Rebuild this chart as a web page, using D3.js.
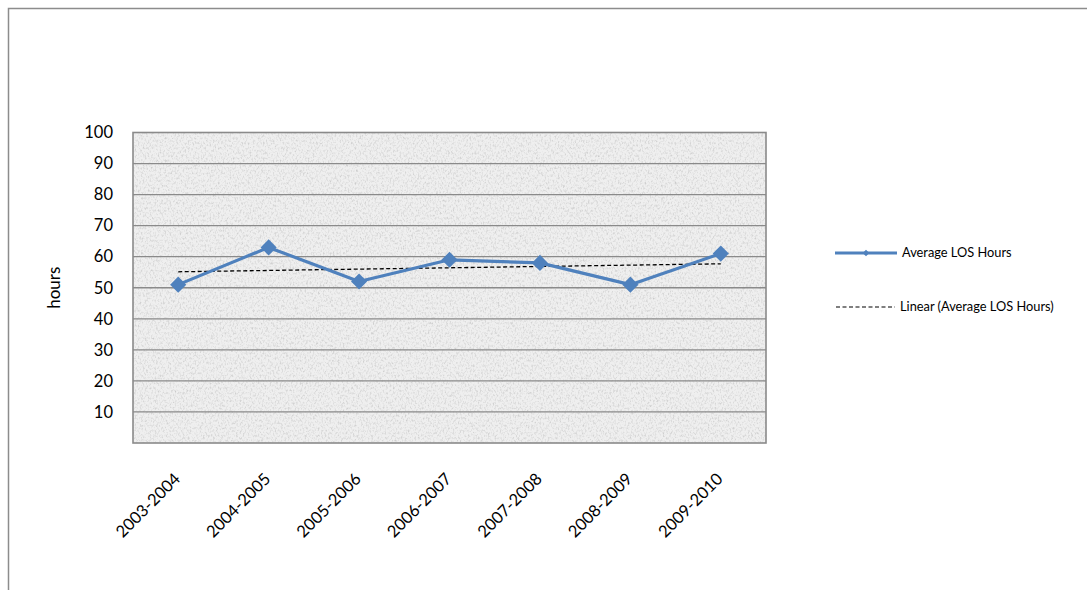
<!DOCTYPE html>
<html>
<head>
<meta charset="utf-8">
<script src="https://cdn.jsdelivr.net/npm/d3@7"></script>
<style>
  html, body { margin: 0; padding: 0; background: #fff; }
  svg { display: block; }
</style>
</head>
<body>
<svg id="chart" width="1087" height="590"></svg>
<script>
// Academic years on the category axis
const categories = ["2003-2004", "2004-2005", "2005-2006", "2006-2007", "2007-2008", "2008-2009", "2009-2010"];
// Average length of stay, in hours
const avgLosHours = [51, 63, 52, 59, 58, 51, 61];
// Value-axis tick labels
const yTicks = [10, 20, 30, 40, 50, 60, 70, 80, 90, 100];
const gridTicks = [10, 20, 30, 40, 50, 60, 70, 80, 90];
const seriesName = "Average LOS Hours";
const trendName = "Linear (Average LOS Hours)";

const svg = d3.select("#chart");
const font = "Lato, 'Open Sans', sans-serif";

const plot = { left: 133, top: 132.5, right: 766, bottom: 443 };

const x = d3.scaleBand().domain(categories).range([plot.left, plot.right]);
const xc = d => x(d) + x.bandwidth() / 2;
const y = d3.scaleLinear().domain([0, 100]).range([plot.bottom, plot.top]);

// Granite-like texture for the plot area
const defs = svg.append("defs");
const f = defs.append("filter").attr("id", "granite")
  .attr("x", 0).attr("y", 0).attr("width", "100%").attr("height", "100%");
f.append("feTurbulence").attr("type", "fractalNoise")
  .attr("baseFrequency", "0.6 0.4").attr("numOctaves", 3).attr("seed", 7).attr("result", "noise");
f.append("feColorMatrix").attr("in", "noise").attr("type", "matrix")
  .attr("values", "0 0 0 0 0.6  0 0 0 0 0.6  0 0 0 0 0.6  2.2 0 0 0 -1.0")
  .attr("result", "speck");
f.append("feFlood").attr("flood-color", "#efefef").attr("result", "base");
f.append("feComposite").attr("in", "speck").attr("in2", "base").attr("operator", "over");

// Outer chart border
svg.append("rect")
  .attr("x", 8.5).attr("y", 8.5).attr("width", 1100).attr("height", 600)
  .attr("fill", "none").attr("stroke", "#8c8c8c").attr("stroke-width", 1.5);

// Plot background
svg.append("rect")
  .attr("x", plot.left).attr("y", plot.top)
  .attr("width", plot.right - plot.left).attr("height", plot.bottom - plot.top)
  .attr("filter", "url(#granite)");

// Horizontal gridlines
svg.append("g")
  .selectAll("line").data(gridTicks).join("line")
  .attr("x1", plot.left).attr("x2", plot.right)
  .attr("y1", d => y(d)).attr("y2", d => y(d))
  .attr("stroke", "#8a8a8a").attr("stroke-width", 1.3);

// Plot border
svg.append("rect")
  .attr("x", plot.left).attr("y", plot.top)
  .attr("width", plot.right - plot.left).attr("height", plot.bottom - plot.top)
  .attr("fill", "none").attr("stroke", "#8a8a8a").attr("stroke-width", 1.6);

// Y axis labels
const yAxis = d3.axisLeft(y).tickValues(yTicks).tickSize(0).tickPadding(0);
const yg = svg.append("g").attr("transform", `translate(${plot.left - 20},0)`).call(yAxis);
yg.select(".domain").remove();
yg.selectAll("text").attr("font-family", font).attr("font-size", 16.5).attr("fill", "#000");

// Y axis title
svg.append("text")
  .attr("transform", `translate(60,${(plot.top + plot.bottom) / 2}) rotate(-90)`)
  .attr("text-anchor", "middle")
  .attr("font-family", font).attr("font-size", 17).attr("fill", "#000")
  .text("hours");

// X axis labels, rotated
const xAxis = d3.axisBottom(x).tickSize(0).tickPadding(0);
const xg = svg.append("g").attr("transform", `translate(0,${plot.bottom})`).call(xAxis);
xg.select(".domain").remove();
xg.selectAll("text")
  .attr("font-family", font).attr("font-size", 16.5).attr("fill", "#000")
  .attr("text-anchor", "end")
  .attr("dy", 0)
  .attr("transform", "translate(3,37) rotate(-45)");

// Linear trendline (least squares over category index)
const n = avgLosHours.length;
const idx = d3.range(1, n + 1);
const mx = d3.mean(idx), my = d3.mean(avgLosHours);
const slope = d3.sum(idx, (i, k) => (i - mx) * (avgLosHours[k] - my)) / d3.sum(idx, i => (i - mx) ** 2);
const intercept = my - slope * mx;
svg.append("line")
  .attr("x1", xc(categories[0])).attr("x2", xc(categories[n - 1]))
  .attr("y1", y(intercept + slope * 1)).attr("y2", y(intercept + slope * n))
  .attr("stroke", "#000").attr("stroke-width", 1.3).attr("stroke-dasharray", "4,2.5");

// Series line
const blue = "#4f81bd";
svg.append("path")
  .datum(avgLosHours)
  .attr("fill", "none").attr("stroke", blue).attr("stroke-width", 3.2)
  .attr("stroke-linejoin", "round")
  .attr("d", d3.line().x((d, i) => xc(categories[i])).y(d => y(d)));

// Diamond markers
svg.append("g").selectAll("path").data(avgLosHours).join("path")
  .attr("d", d3.symbol().type(d3.symbolSquare).size(130))
  .attr("transform", (d, i) => `translate(${xc(categories[i])},${y(d)}) rotate(45)`)
  .attr("fill", blue);

// Legend
const lg = svg.append("g");
lg.append("line").attr("x1", 835).attr("x2", 897).attr("y1", 253).attr("y2", 253)
  .attr("stroke", blue).attr("stroke-width", 3);
lg.append("path").attr("d", d3.symbol().type(d3.symbolSquare).size(22))
  .attr("transform", "translate(866,253) rotate(45)").attr("fill", blue);
lg.append("text").attr("x", 902).attr("y", 257)
  .attr("font-family", font).attr("font-size", 12.8).attr("fill", "#000").text(seriesName);
lg.append("line").attr("x1", 836).attr("x2", 895).attr("y1", 307).attr("y2", 307)
  .attr("stroke", "#000").attr("stroke-width", 1.1).attr("stroke-dasharray", "4,2.5");
lg.append("text").attr("x", 900).attr("y", 311)
  .attr("font-family", font).attr("font-size", 12.8).attr("fill", "#000").text(trendName);
</script>
</body>
</html>
